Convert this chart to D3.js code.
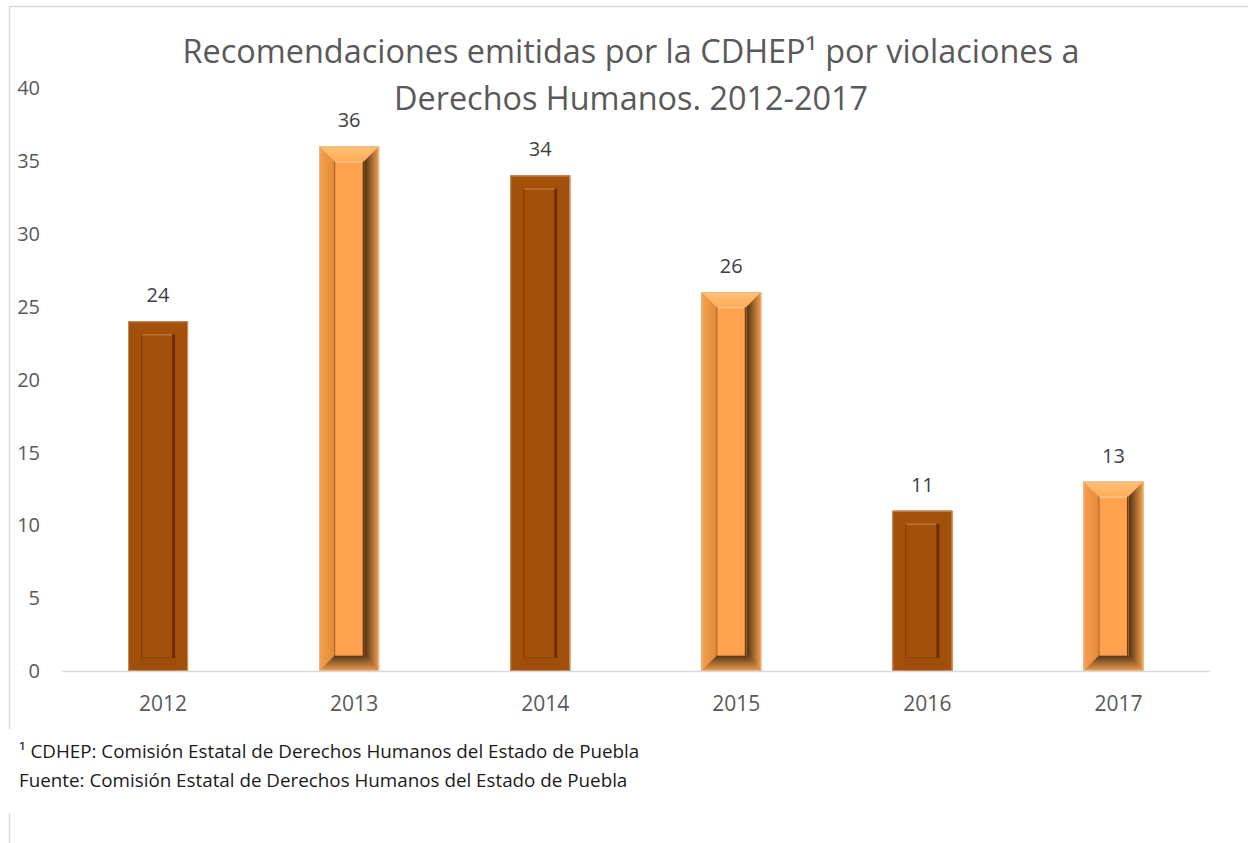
<!DOCTYPE html>
<html lang="es">
<head>
<meta charset="utf-8">
<title>Recomendaciones CDHEP</title>
<script src="https://d3js.org/d3.v7.min.js"></script>
<style>
  body, html { margin: 0; padding: 0; background: #fff; }
  svg { display: block; font-family: "Open Sans", sans-serif; }
  .tick-label { fill: #595959; font-size: 20px; }
  .data-label { fill: #404040; font-size: 20px; }
  .title { fill: #595959; }
  .note { fill: #1a1a1a; }
</style>
</head>
<body>
<svg id="chart" width="1248" height="843"></svg>
<script>
var years = ["2012", "2013", "2014", "2015", "2016", "2017"];
var recomendaciones = [24, 36, 34, 26, 11, 13];
var yTicks = [0, 5, 10, 15, 20, 25, 30, 35, 40];
var titleLines = ["Recomendaciones emitidas por la CDHEP\u00b9 por violaciones a",
                  "Derechos Humanos. 2012-2017"];
var notes = ["\u00b9 CDHEP: Comisi\u00f3n Estatal de Derechos Humanos del Estado de Puebla",
             "Fuente: Comisi\u00f3n Estatal de Derechos Humanos del Estado de Puebla"];

var svg = d3.select("#chart");

// chart frame (only top and left edges are visible)
svg.append("line").attr("x1", 9.5).attr("x2", 1248).attr("y1", 6.5).attr("y2", 6.5)
    .attr("stroke", "#d9d9d9").attr("stroke-width", 1.5);
svg.append("line").attr("x1", 9.5).attr("x2", 9.5).attr("y1", 6).attr("y2", 729)
    .attr("stroke", "#d9d9d9").attr("stroke-width", 1.5);
svg.append("line").attr("x1", 9.5).attr("x2", 9.5).attr("y1", 813).attr("y2", 843)
    .attr("stroke", "#d9d9d9").attr("stroke-width", 1.5);

var x = d3.scaleBand().domain(years).range([62.5, 1209]).paddingInner(0.686).paddingOuter(0.343);
var y = d3.scaleLinear().domain([0, 40]).range([671, 88]);

// styles for the two alternating bar colours
var styles = {
    dark: {
        base: "#a3500b", edge: "#c89068",
        top: ["#a6530e", "#a3500b"], left: ["#a3500b", "#a3500b"],
        right: ["#a3500b", "#a3500b"], bottom: ["#a3500b", "#9c4c0a"],
        rightStop: 1, hl: "#bf7434", sh: "#6a2e02", inset: 13, shW: 3
    },
    light: {
        base: "#ffa24d", edge: "#e8b888",
        top: ["#ffc27a", "#ffab55"], left: ["#f8a050", "#e08a3a"],
        right: ["#f5a250", "#4e2e10"], bottom: ["#f0a050", "#5a3818"],
        rightStop: 1, hl: "#ffc888", sh: "#6a4018", inset: 15, shW: 1.5
    }
};
var styleOf = d3.scaleOrdinal().domain([0, 1]).range(["dark", "light"]);

var defs = svg.append("defs");
Object.keys(styles).forEach(function(k) {
    var s = styles[k];
    function grad(id, x1, y1, x2, y2, c) {
        var g = defs.append("linearGradient").attr("id", k + "-" + id)
            .attr("x1", x1).attr("y1", y1).attr("x2", x2).attr("y2", y2);
        g.append("stop").attr("offset", 0).attr("stop-color", c[0]);
        g.append("stop").attr("offset", 1).attr("stop-color", c[1]);
    }
    grad("top", 0, 0, 0, 1, s.top);
    grad("left", 0, 0, 1, 0, s.left);
    grad("right", 1, 0, 0, 0, s.right);   // dark near inner edge
    grad("bottom", 0, 1, 0, 0, s.bottom); // dark near inner edge
});

// baseline
svg.append("line").attr("x1", 62).attr("x2", 1210).attr("y1", y(0) + 0.5).attr("y2", y(0) + 0.5)
    .attr("stroke", "#d9d9d9").attr("stroke-width", 1.5);

var bars = svg.selectAll("g.bar").data(recomendaciones).enter().append("g").attr("class", "bar");

bars.each(function(v, i) {
    var g = d3.select(this);
    var k = styleOf(i % 2), s = styles[k];
    var x0 = x(years[i]), x1 = x0 + x.bandwidth();
    var y0 = y(v), y1 = y(0);
    var d = s.inset;
    var ix0 = x0 + d, ix1 = x1 - d, iy0 = y0 + d, iy1 = y1 - d;
    function poly(pts) { return pts.map(function(p) { return p.join(","); }).join(" "); }
    g.append("rect").attr("x", x0).attr("y", y0).attr("width", x1 - x0).attr("height", y1 - y0)
        .attr("fill", s.base);
    g.append("polygon").attr("points", poly([[x0, y0], [x1, y0], [ix1, iy0], [ix0, iy0]]))
        .attr("fill", "url(#" + k + "-top)");
    g.append("polygon").attr("points", poly([[x0, y0], [ix0, iy0], [ix0, iy1], [x0, y1]]))
        .attr("fill", "url(#" + k + "-left)");
    g.append("polygon").attr("points", poly([[x1, y0], [x1, y1], [ix1, iy1], [ix1, iy0]]))
        .attr("fill", "url(#" + k + "-right)");
    g.append("polygon").attr("points", poly([[x0, y1], [ix0, iy1], [ix1, iy1], [x1, y1]]))
        .attr("fill", "url(#" + k + "-bottom)");
    g.append("rect").attr("x", ix0).attr("y", iy0).attr("width", ix1 - ix0).attr("height", iy1 - iy0)
        .attr("fill", s.base);
    // inner edge highlights / shadows
    g.append("line").attr("x1", ix0).attr("x2", ix1).attr("y1", iy0 + 0.5).attr("y2", iy0 + 0.5)
        .attr("stroke", s.hl).attr("stroke-width", 1.5);
    g.append("line").attr("x1", ix0 + 0.5).attr("x2", ix0 + 0.5).attr("y1", iy0).attr("y2", iy1)
        .attr("stroke", s.sh).attr("stroke-opacity", 0.6).attr("stroke-width", 1.2);
    g.append("line").attr("x1", ix1 - s.shW / 2).attr("x2", ix1 - s.shW / 2).attr("y1", iy0).attr("y2", iy1)
        .attr("stroke", s.sh).attr("stroke-width", s.shW);
    g.append("line").attr("x1", ix0).attr("x2", ix1).attr("y1", iy1 - 0.5).attr("y2", iy1 - 0.5)
        .attr("stroke", s.sh).attr("stroke-opacity", 0.35).attr("stroke-width", 1);
    g.append("rect").attr("x", x0 + 0.5).attr("y", y0 + 0.5).attr("width", x1 - x0 - 1).attr("height", y1 - y0 - 1)
        .attr("fill", "none").attr("stroke", s.edge).attr("stroke-width", 1);
});

// data labels
svg.selectAll("text.data-label").data(recomendaciones).enter().append("text")
    .attr("class", "data-label")
    .attr("x", function(d, i) { return x(years[i]) + x.bandwidth() / 2; })
    .attr("y", function(d) { return y(d) - 19; })
    .attr("text-anchor", "middle")
    .text(function(d) { return d; });

// y axis labels (no axis line)
svg.selectAll("text.ytick").data(yTicks).enter().append("text")
    .attr("class", "tick-label ytick")
    .attr("x", 40).attr("y", function(d) { return y(d); })
    .attr("dy", "0.36em").attr("text-anchor", "end")
    .text(function(d) { return d; });

// x axis labels
svg.selectAll("text.xtick").data(years).enter().append("text")
    .attr("class", "tick-label xtick")
    .attr("x", function(d) { return x(d) + x.bandwidth() / 2 + 5; })
    .attr("y", 711).attr("text-anchor", "middle")
    .style("font-size", "21px")
    .text(function(d) { return d; });

// title
var title = svg.selectAll("text.title").data(titleLines).enter().append("text")
    .attr("class", "title")
    .attr("x", 631).attr("y", function(d, i) { return 63 + i * 47; })
    .attr("text-anchor", "middle").style("font-size", "30px")
    .text(function(d) { return d; });
var tw = title.node().getComputedTextLength();
title.style("font-size", (30 * 897 / tw) + "px");

// footnotes
var note = svg.selectAll("text.note").data(notes).enter().append("text")
    .attr("class", "note")
    .attr("x", 19).attr("y", function(d, i) { return 758 + i * 29; })
    .style("font-size", "16px")
    .text(function(d) { return d; });
var nw = note.node().getComputedTextLength();
note.style("font-size", (16 * 621 / nw) + "px");
</script>
</body>
</html>
